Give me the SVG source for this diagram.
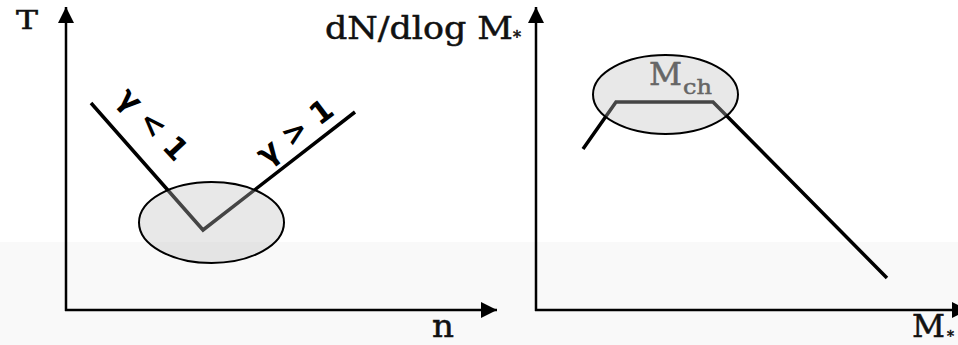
<svg xmlns="http://www.w3.org/2000/svg" width="958" height="345" viewBox="0 0 958 345">
<defs>
<style>
.ax{stroke:#000;stroke-width:2.5;fill:none}
.crv{stroke:#000;stroke-width:3.5;fill:none;stroke-linejoin:miter}
.blob{fill:#bebebe;fill-opacity:0.36;stroke:#000;stroke-width:2}
.lbl{font-family:"DejaVu Serif","Liberation Serif",serif;fill:#111;stroke:#111;stroke-width:0.5}
.gam{font-family:"DejaVu Sans","Liberation Sans",sans-serif;font-weight:bold;fill:#000;font-size:30px}
</style>
<marker id="ah" viewBox="0 0 16 16" refX="16" refY="8" markerWidth="16" markerHeight="16" markerUnits="userSpaceOnUse" orient="auto">
<path d="M0,0 L16,8 L0,16 Z" fill="#000"/>
</marker>
</defs>
<rect x="0" y="0" width="958" height="345" fill="#fff"/>
<rect x="0" y="242" width="958" height="103" fill="#f9f9f9"/>
<g id="axes">
<line class="ax" x1="66" y1="311" x2="66" y2="7" marker-end="url(#ah)"/>
<line class="ax" x1="65" y1="310" x2="497" y2="310" marker-end="url(#ah)"/>
<line class="ax" x1="536" y1="311" x2="536" y2="7" marker-end="url(#ah)"/>
<line class="ax" x1="535" y1="310" x2="968" y2="310" marker-end="url(#ah)"/>
</g>
<g id="curves">
<polyline class="crv" points="91,103 203,230 355,112"/>
<polyline class="crv" points="583,149 616,102 713,102 887,278"/>
</g>
<g id="blob-left"><ellipse class="blob" cx="211.5" cy="222.5" rx="72.5" ry="40.5"/></g>
<g id="blob-right"><ellipse class="blob" cx="665.5" cy="94.5" rx="72.5" ry="39.5"/>
<text class="lbl" x="649" y="85" font-size="32" textLength="33" lengthAdjust="spacingAndGlyphs" style="fill:#666;stroke:#666">M</text>
<text class="lbl" x="683" y="94" font-size="21" textLength="29" lengthAdjust="spacingAndGlyphs" style="fill:#666;stroke:#666">ch</text>
</g>
<g id="labels">
<text class="lbl" x="16" y="29" font-size="26" textLength="22" lengthAdjust="spacingAndGlyphs">T</text>
<text class="lbl" x="325" y="38.5" font-size="31" textLength="188" lengthAdjust="spacingAndGlyphs">dN/dlog M</text>
<text class="lbl" x="513" y="43" font-size="16">*</text>
<text class="lbl" x="432" y="337" font-size="31" textLength="22" lengthAdjust="spacingAndGlyphs">n</text>
<text class="lbl" x="912" y="337" font-size="31" textLength="33" lengthAdjust="spacingAndGlyphs">M</text>
<text class="lbl" x="947" y="341" font-size="14">*</text>
<text class="gam" text-anchor="middle" transform="translate(145.5,131) rotate(47)">γ &lt; 1</text>
<text class="gam" text-anchor="middle" transform="translate(301,140) rotate(-37)">γ &gt; 1</text>
</g>
</svg>
